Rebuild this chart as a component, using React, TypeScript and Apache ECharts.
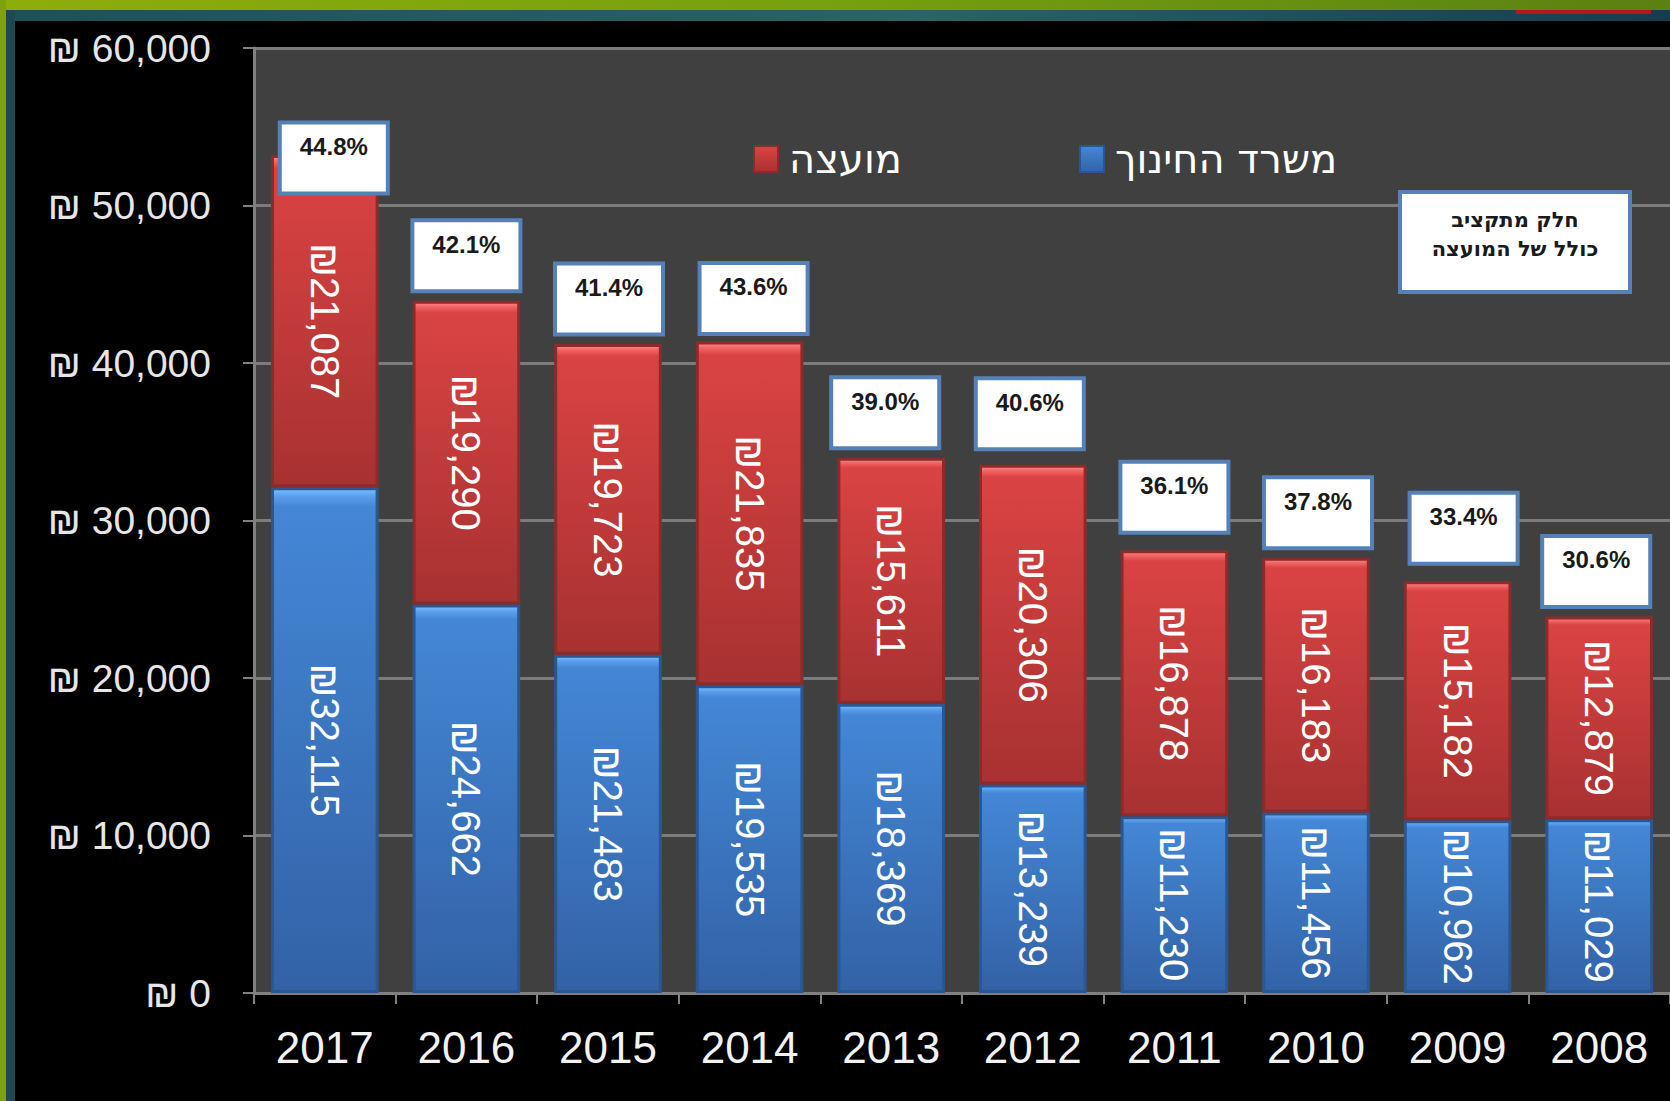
import React, { useEffect, useRef } from "react";
import * as echarts from "echarts";

// ---------- data ----------
const years = ["2017", "2016", "2015", "2014", "2013", "2012", "2011", "2010", "2009", "2008"];
const educationMinistry = [32115, 24662, 21483, 19535, 18369, 13239, 11230, 11456, 10962, 11029];
const council = [21087, 19290, 19723, 21835, 15611, 20306, 16878, 16183, 15182, 12879];
const councilShare = ["44.8%", "42.1%", "41.4%", "43.6%", "39.0%", "40.6%", "36.1%", "37.8%", "33.4%", "30.6%"];
const yMin = 0;
const yMax = 60000;
const yStep = 10000;

const seriesNames = { edu: "משרד החינוך", council: "מועצה" };
const noteLines = ["חלק מתקציב", "כולל של המועצה"];

// ---------- styling (not data) ----------
const shareBoxOffsets: [number, number][] = [
  [9, 48], [0, 0], [1, 0], [4, 2], [-6, 0], [-3, -6], [0, -8], [2, 0], [6, -8], [-3, 0],
];

const fmt = (v: number) => "₪" + v.toLocaleString("en-US");

export default function App() {
  const ref = useRef<HTMLDivElement>(null);
  useEffect(() => {
    if (!ref.current) return;
    const chart = echarts.init(ref.current, null, { renderer: "svg" });

    const blueGrad = new echarts.graphic.LinearGradient(0, 0, 0, 1, [
      { offset: 0, color: "#7cc0ff" },
      { offset: 0.015, color: "#5a9fec" },
      { offset: 0.035, color: "#4487d6" },
      { offset: 1, color: "#3262a6" },
    ]);
    const redGrad = new echarts.graphic.LinearGradient(0, 0, 0, 1, [
      { offset: 0, color: "#ff8a8a" },
      { offset: 0.015, color: "#f36464" },
      { offset: 0.035, color: "#da4343" },
      { offset: 1, color: "#a83131" },
    ]);

    const barLabel = {
      show: true,
      position: "inside",
      rotate: -90,
      color: "#ffffff",
      fontFamily: "Liberation Sans",
      fontSize: 40,
      formatter: (p: any) => fmt(p.value),
    };

    const shareData = years.map((y, i) => ({
      value: [y, educationMinistry[i] + council[i]],
      label: { offset: shareBoxOffsets[i], formatter: councilShare[i] },
    }));

    chart.setOption({
      animation: false,
      backgroundColor: "#000000",
      grid: {
        left: 254,
        top: 48,
        right: -4,
        bottom: 108,
        show: true,
        backgroundColor: "#404040",
        borderWidth: 0,
      },
      legend: {
        data: [seriesNames.council, seriesNames.edu],
        left: 753,
        top: 139,
        padding: 0,
        itemGap: 177,
        itemWidth: 24,
        itemHeight: 26,
        icon: "rect",
        textStyle: {
          color: "#ffffff",
          fontFamily: "DejaVu Sans",
          fontSize: 40,
          padding: [0, 0, 0, 6],
        },
      },
      xAxis: {
        type: "category",
        data: years,
        axisLine: { show: true, lineStyle: { color: "#808080", width: 3 } },
        axisTick: { show: true, length: 11, lineStyle: { color: "#808080", width: 2 } },
        axisLabel: {
          color: "#f2f2f2",
          fontFamily: "Liberation Sans",
          fontSize: 44,
          margin: 32,
        },
      },
      yAxis: {
        type: "value",
        min: yMin,
        max: yMax,
        interval: yStep,
        axisLine: { show: true, lineStyle: { color: "#808080", width: 3 } },
        axisTick: { show: true, length: 11, lineStyle: { color: "#808080", width: 2 } },
        splitLine: { show: true, lineStyle: { color: "#7c7c7c", width: 3 } },
        axisLabel: {
          color: "#e6e6e6",
          fontFamily: "Liberation Sans",
          fontSize: 39,
          margin: 43,
          formatter: (v: number) => "₪ " + v.toLocaleString("en-US"),
        },
      },
      series: [
        {
          name: seriesNames.edu,
          type: "bar",
          stack: "total",
          barWidth: "76%",
          data: educationMinistry,
          itemStyle: { color: blueGrad, borderColor: "#2b5791", borderWidth: 3 },
          label: barLabel,
        },
        {
          name: seriesNames.council,
          type: "bar",
          stack: "total",
          data: council,
          itemStyle: { color: redGrad, borderColor: "#8c2b2b", borderWidth: 3 },
          label: barLabel,
        },
        {
          name: "share",
          type: "scatter",
          data: shareData,
          symbolSize: 1,
          z: 5,
          itemStyle: { color: "rgba(0,0,0,0)", opacity: 1 },
          label: {
            show: true,
            position: "top",
            distance: 11,
            backgroundColor: "#ffffff",
            borderColor: "#5581b8",
            borderWidth: 4,
            padding: [9, 18, 32, 18],
            color: "#1a1a1a",
            fontFamily: "Liberation Sans",
            fontWeight: "bold",
            fontSize: 24,
            lineHeight: 26,
          },
        },
      ],
      graphic: [
        {
          type: "rect",
          z: 100,
          shape: { x: 0, y: 0, width: 1670, height: 10 },
          style: {
            fill: new echarts.graphic.LinearGradient(0, 0, 1, 0, [
              { offset: 0, color: "#8cae0c" },
              { offset: 0.5, color: "#77a00e" },
              { offset: 1, color: "#5a8112" },
            ]),
          },
          silent: true,
        },
        {
          type: "rect",
          z: 100,
          shape: { x: 0, y: 10, width: 1670, height: 11 },
          style: {
            fill: new echarts.graphic.LinearGradient(0, 0, 1, 0, [
              { offset: 0, color: "#1f5058" },
              { offset: 0.55, color: "#2a6464" },
              { offset: 1, color: "#163d4d" },
            ]),
          },
          silent: true,
        },
        {
          type: "rect",
          z: 100,
          shape: { x: 0, y: 0, width: 6, height: 1101 },
          style: { fill: "#7ea20c" },
          silent: true,
        },
        {
          type: "rect",
          z: 100,
          shape: { x: 6, y: 10, width: 9, height: 1091 },
          style: { fill: "#1c4954" },
          silent: true,
        },
        {
          type: "rect",
          z: 101,
          shape: { x: 1516, y: 10, width: 135, height: 4 },
          style: { fill: "#b41818" },
          silent: true,
        },
        {
          type: "group",
          left: 1398,
          top: 190,
          z: 100,
          children: [
            {
              type: "rect",
              z: 100,
              shape: { x: 0, y: 0, width: 230, height: 100 },
              style: { fill: "#ffffff", stroke: "#5581b8", lineWidth: 4 },
            },
            {
              type: "text",
              z: 101,
              x: 115,
              y: 28,
              style: {
                text: noteLines[0],
                fill: "#1a1a1a",
                font: "bold 21px 'DejaVu Sans'",
                align: "center",
                verticalAlign: "middle",
              },
            },
            {
              type: "text",
              z: 101,
              x: 115,
              y: 57,
              style: {
                text: noteLines[1],
                fill: "#1a1a1a",
                font: "bold 21px 'DejaVu Sans'",
                align: "center",
                verticalAlign: "middle",
              },
            },
          ],
        },
      ],
    });
    return () => chart.dispose();
  }, []);

  return (
    <div
      ref={ref}
      style={{ position: "fixed", left: 0, top: 0, width: 1670, height: 1101 }}
    />
  );
}
